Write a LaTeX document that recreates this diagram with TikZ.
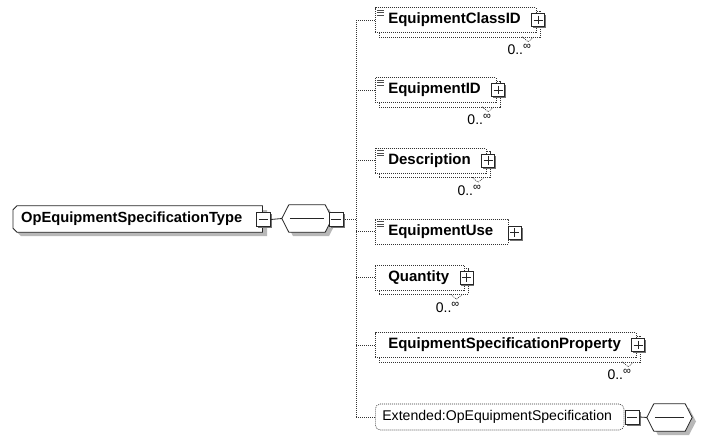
\documentclass[tikz,border=0pt]{standalone}
\usepackage{fontspec}
\setmainfont{Liberation Sans}
\usetikzlibrary{backgrounds}
\tikzset{
  dotline/.style={draw=black!80, dash pattern=on 1pt off 1pt, line width=0.6pt},
  front/.style={dotline, fill=white, font=\fontsize{15}{18}\selectfont\bfseries, inner xsep=6, inner ysep=0, minimum height=25, anchor=west, text=black},
  backbox/.style={dotline, fill=white},
  pmbox/.style={draw=black!85, fill=white, minimum size=13, inner sep=0, line width=0.8pt},
  mnbox/.style={draw=black!85, fill=white, minimum size=14, inner sep=0, line width=0.8pt},
  multlabel/.style={font=\fontsize{14}{16}\selectfont, inner sep=0, anchor=east},
  shadowfill/.style={fill=black!28},
  solidline/.style={draw=black!85, line width=0.8pt},
  iconline/.style={draw=black!70, line width=0.6pt},
}
\newcommand\pmplus[2]{%
  \coordinate (#1c) at #2;
  \fill[black!55] ([shift={(1.5,1.5)}]#1c) +(-6.5,-6.5) rectangle +(6.5,6.5);
  \node[pmbox] (#1) at (#1c) {};
  \draw[black!85, line width=0.7pt] ([shift={(0,2.5)}]#1.north) -- ([shift={(0,-2.5)}]#1.south);
  \draw[black!85, line width=0.7pt] ([shift={(2.5,0)}]#1.west) -- ([shift={(-2.5,0)}]#1.east);
}
\newcommand\pmminus[2]{%
  \coordinate (#1c) at #2;
  \fill[black!55] ([shift={(1.5,1.5)}]#1c) +(-7,-7) rectangle +(7,7);
  \node[mnbox] (#1) at (#1c) {};
  \draw[black!85, line width=0.7pt] ([shift={(2.5,0)}]#1.west) -- ([shift={(-2.5,0)}]#1.east);
}
\newcommand\elicon[1]{%
  \draw[iconline] ([shift={(2,3)}]#1.north west) -- +(7,0);
  \draw[iconline] ([shift={(2,5.5)}]#1.north west) -- +(7,0);
  \draw[iconline] ([shift={(2,8)}]#1.north west) -- +(7,0);
}
\newcommand\multi[1]{%
  \begin{scope}[on background layer]
    \draw[backbox] ([shift={(4,4)}]#1.north west) rectangle ([shift={(4,4)}]#1.south east);
  \end{scope}
  \draw[dotline] ([shift={(-14,4)}]#1.south east) -- ([shift={(-8,9)}]#1.south east) -- ([shift={(-2,4)}]#1.south east);
  \node[multlabel] (#1m) at ([shift={(-5,17)}]#1.south east) {0..\raisebox{5pt}{\fontsize{11}{11}\selectfont ∞}};
}
\newcommand\octa[1]{%
  (#1.west) -- ([shift={(7,0)}]#1.north west) -- ([shift={(-7,0)}]#1.north east) -- (#1.east) -- ([shift={(-7,0)}]#1.south east) -- ([shift={(7,0)}]#1.south west) -- cycle
}
\newcommand\typeshape[1]{%
  ([shift={(4,0)}]#1.north west) -- (#1.north east) -- (#1.south east) -- ([shift={(4,0)}]#1.south west) -- ([shift={(0,-4)}]#1.south west) -- ([shift={(0,4)}]#1.north west) -- cycle
}
\begin{document}
\begin{tikzpicture}[x=1pt,y=-1pt]
\useasboundingbox (0,0) rectangle (716,442);

% shadows (first on the background layer)
\begin{scope}[on background layer]
  \fill[white] (0,0) rectangle (716,442);
  \fill[shadowfill] (21,210) -- (267,210) -- (267,236) -- (21,236) -- (17,232) -- (17,214) -- cycle;
  \fill[shadowfill] (286,222.5) -- (293,209) -- (329,209) -- (336,222.5) -- (329,236) -- (293,236) -- cycle;
  \fill[shadowfill] (651,421.5) -- (658,408) -- (689,408) -- (696,421.5) -- (689,435) -- (658,435) -- cycle;
\end{scope}

% main type
\node[anchor=west, inner xsep=8, inner ysep=0, minimum height=26, font=\fontsize{14.7}{18}\selectfont\bfseries] (type) at (13,219) {OpEquipmentSpecificationType\hspace*{12pt}};
\begin{scope}[on background layer]
  \path[solidline, fill=white] \typeshape{type};
\end{scope}
\pmminus{typem}{(263.5,219.5)}

% sequence
\node[inner sep=0, minimum width=50, minimum height=27] (seq) at (307,218.5) {};
\begin{scope}[on background layer]
  \path[solidline, fill=white] \octa{seq};
\end{scope}
\draw[solidline] ([shift={(8,0)}]seq.west) -- ([shift={(-8,0)}]seq.east);
\pmminus{seqm}{(336,219)}
\draw[solidline] (typem.east) -- (seq.west);
\coordinate (vseq) at (356,219);
\draw[dotline] (seqm.east) -- (vseq);

% vertical line
\coordinate (vtop) at (356,20);
\coordinate (vbot) at (356,417);
\draw[dotline] (vtop) -- (vbot);

% children
\node[front] (ecid) at (375,20) {\hspace*{7pt}EquipmentClassID\hspace*{9pt}};
\elicon{ecid}
\multi{ecid}
\pmplus{ecidp}{([shift={(2,0)}]ecid.east)}
\coordinate (v1) at (356,20);
\draw[dotline] (v1) -- (ecid.west);

\node[front] (eid) at (375,90) {\hspace*{7pt}EquipmentID\hspace*{9pt}};
\elicon{eid}
\multi{eid}
\pmplus{eidp}{([shift={(2,0)}]eid.east)}
\coordinate (v2) at (356,90);
\draw[dotline] (v2) -- (eid.west);

\node[front] (desc) at (375,160.5) {\hspace*{7pt}Description\hspace*{9pt}};
\elicon{desc}
\multi{desc}
\pmplus{descp}{([shift={(2,0)}]desc.east)}
\coordinate (v3) at (356,160.5);
\draw[dotline] (v3) -- (desc.west);

\node[front] (euse) at (375,231.5) {\hspace*{7pt}EquipmentUse\hspace*{9pt}};
\elicon{euse}
\pmplus{eusep}{([shift={(6,1)}]euse.east)}
\coordinate (v4) at (356,231.5);
\draw[dotline] (v4) -- (euse.west);

\node[front] (qty) at (375,277.5) {\hspace*{7pt}Quantity\hspace*{9pt}};
\multi{qty}
\pmplus{qtyp}{([shift={(2,0)}]qty.east)}
\coordinate (v5) at (356,277.5);
\draw[dotline] (v5) -- (qty.west);

\node[front] (esp) at (375,345) {\hspace*{7pt}EquipmentSpecificationProperty\hspace*{9pt}};
\multi{esp}
\pmplus{espp}{([shift={(2,0)}]esp.east)}
\coordinate (v6) at (356,345);
\draw[dotline] (v6) -- (esp.west);

% extension
\node[dotline, fill=white, rounded corners=5pt, anchor=west, inner xsep=7, inner ysep=0, minimum height=26, font=\fontsize{14.1}{17}\selectfont] (ext) at (375,417) {Extended:OpEquipmentSpecification\hspace*{5pt}};
\coordinate (v7) at (356,417);
\draw[dotline] (v7) -- (ext.west);
\pmminus{extm}{([shift={(8,0)}]ext.east)}
\node[inner sep=0, minimum width=45, minimum height=27] (extseq) at (669.5,417.5) {};
\begin{scope}[on background layer]
  \path[solidline, fill=white] \octa{extseq};
\end{scope}
\draw[solidline] ([shift={(8,0)}]extseq.west) -- ([shift={(-8,0)}]extseq.east);
\draw[solidline] (extm.east) -- (extseq.west);
\end{tikzpicture}
\end{document}
